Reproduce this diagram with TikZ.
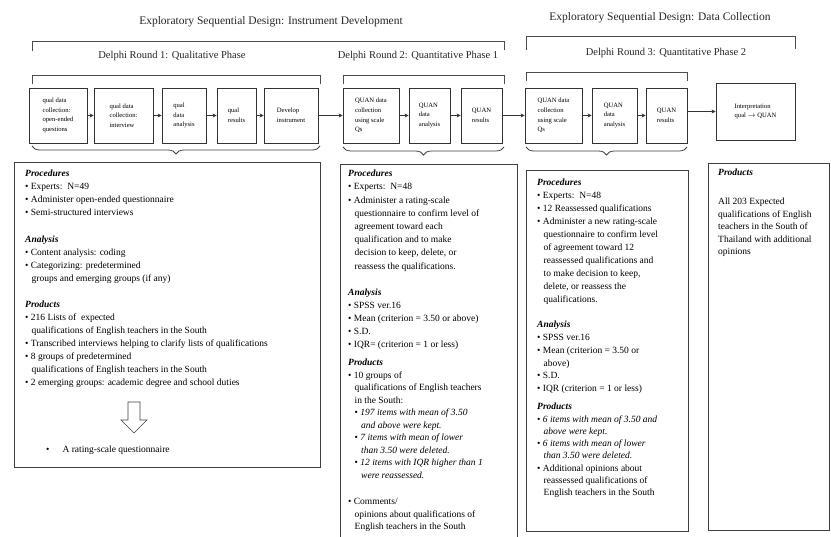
\documentclass[tikz,border=0pt]{standalone}
\usepackage{fontspec}
\setmainfont{Liberation Serif}
\usetikzlibrary{arrows.meta,decorations.pathreplacing}

\newcommand{\pbul}{\textbullet\ }
\newcommand{\pind}{\hspace*{6.5pt}}
\newcommand{\phead}[1]{\textbf{\textit{#1}}}

\tikzset{
  stage/.style={draw=black!80, line width=0.9pt, align=left, inner sep=0pt, font=\fontsize{6.6}{9.6}\selectfont, minimum height=55pt},
  flow/.style={-{Stealth[length=4pt,width=4pt]}, line width=0.6pt, black!80},
  panel/.style={draw=black!75, line width=0.8pt},
  ptext/.style={anchor=north west, align=left, inner sep=0pt, font=\fontsize{9.5}{13}\selectfont},
  bracket/.style={line width=1pt, black!70},
  curly/.style={decorate, decoration={brace, mirror, amplitude=8pt}, line width=0.8pt, black!75},
}

\begin{document}
\begin{tikzpicture}[x=1pt, y=-1pt]
	%%%%% START %%%%%
	\useasboundingbox (0,0) rectangle (831,537);

	% titles and brackets
	\node[font=\fontsize{11.5}{13}\selectfont, black!85] (tdev) at (271,22) {Exploratory Sequential Design: Instrument Development};
	\node[font=\fontsize{11.5}{13}\selectfont, black!85] (tcol) at (660,18) {Exploratory Sequential Design: Data Collection};
	\draw[bracket] (32,51) -- (32,42) -- (504,42) -- (504,50);
	\draw[bracket] (526,50) -- (526,37) -- (795,37) -- (795,49);

	\node[font=\fontsize{10.5}{12}\selectfont, black!85] (rone) at (172,56) {Delphi Round 1: Qualitative Phase};
	\node[font=\fontsize{10.5}{12}\selectfont, black!85] (rtwo) at (418,56) {Delphi Round 2: Quantitative Phase 1};
	\node[font=\fontsize{10.5}{12}\selectfont, black!85] (rthree) at (666,53) {Delphi Round 3: Quantitative Phase 2};
	\draw[bracket] (32,84) -- (32,76) -- (320,76) -- (320,84);
	\draw[bracket] (343,84) -- (343,76) -- (504,76) -- (504,84);
	\draw[bracket] (526,81) -- (526,73) -- (687,73) -- (687,81);

	% stages
	\node[stage, minimum width=58] (b1) at (58,115.5) {qual data\\collection:\\open-ended\\questions};
	\node[stage, minimum width=59] (b2) at (123.5,115.5) {qual data\\collection:\\interview};
	\node[stage, minimum width=44] (b3) at (184,115.5) {qual\\data\\analysis};
	\node[stage, minimum width=39] (b4) at (236.5,115.5) {qual\\results};
	\node[stage, minimum width=54] (b5) at (291,115.5) {Develop\\instrument};
	\node[stage, minimum width=56] (b6) at (371,115.5) {QUAN data\\collection\\using scale\\Qs};
	\node[stage, minimum width=41] (b7) at (429.5,115.5) {QUAN\\data\\analysis};
	\node[stage, minimum width=41] (b8) at (481.5,115.5) {QUAN\\results};
	\node[stage, minimum width=57] (b9) at (553.5,115.5) {QUAN data\\collection\\using scale\\Qs};
	\node[stage, minimum width=45] (b10) at (614.5,115.5) {QUAN\\data\\analysis};
	\node[stage, minimum width=41] (b11) at (666.5,115.5) {QUAN\\results};
	\node[stage, minimum width=79, minimum height=57] (b12) at (755.5,111.5) {Interpretation\\qual $\rightarrow$ QUAN};

	\draw[flow] (b1) -- (b2);
	\draw[flow] (b2) -- (b3);
	\draw[flow] (b3) -- (b4);
	\draw[flow] (b4) -- (b5);
	\draw[flow] (b5) -- (b6);
	\draw[flow] (b6) -- (b7);
	\draw[flow] (b7) -- (b8);
	\draw[flow] (b8) -- (b9);
	\draw[flow] (b9) -- (b10);
	\draw[flow] (b10) -- (b11);
	\draw[flow] (b11.east |- b12.west) -- (b12.west);

	\draw[curly] (32,146) -- (320,146);
	\draw[curly] (343,147) -- (504,147);
	\draw[curly] (526,147) -- (687,147);

	% panels
	\draw[panel] (14,162) rectangle (320,467);
	\draw[panel] (340,540) -- (340,164) -- (517,164) -- (517,540);
	\draw[panel] (526,170) rectangle (688,531);
	\draw[panel] (708,163) rectangle (829,530);

	% round 1
	\node[ptext] (p1proc) at (25,170) {\phead{Procedures}\\
		\pbul Experts:\ \ N=49\\
		\pbul Administer open-ended questionnaire\\
		\pbul Semi-structured interviews};
	\node[ptext] (p1anal) at (25,236) {\phead{Analysis}\\
		\pbul Content analysis: coding\\
		\pbul Categorizing: predetermined\\
		\pind groups and emerging groups (if any)};
	\node[ptext] (p1prod) at (25,301) {\phead{Products}\\
		\pbul 216 Lists of\ \ expected\\
		\pind qualifications of English teachers in the South\\
		\pbul Transcribed interviews helping to clarify lists of qualifications\\
		\pbul 8 groups of predetermined\\
		\pind qualifications of English teachers in the South\\
		\pbul 2 emerging groups: academic degree and school duties};
	\draw[line width=0.7pt, black!75] (128,402) -- (140,402) -- (140,420) -- (147,420) -- (134,433) -- (121,420) -- (128,420) -- cycle;
	\node[ptext, anchor=west] (p1out) at (46,450) {\textbullet\hspace*{13pt}A rating-scale questionnaire};

	% round 2
	\node[ptext, font=\fontsize{9.5}{13.2}\selectfont] (p2proc) at (348,170) {\phead{Procedures}\\
		\pbul Experts:\ \ N=48\\
		\pbul Administer a rating-scale\\
		\pind questionnaire to confirm level of\\
		\pind agreement toward each\\
		\pind qualification and to make\\
		\pind decision to keep, delete, or\\
		\pind reassess the qualifications.};
	\node[ptext] (p2anal) at (348,289) {\phead{Analysis}\\
		\pbul SPSS ver.16\\
		\pbul Mean (criterion = 3.50 or above)\\
		\pbul S.D.\\
		\pbul IQR= (criterion = 1 or less)};
	\node[ptext, font=\fontsize{9.5}{12.5}\selectfont] (p2prod) at (348,359) {\phead{Products}\\
		\pbul 10 groups of\\
		\pind qualifications of English teachers\\
		\pind in the South:\\
		\pind\pbul\textit{197 items with mean of 3.50}\\
		\pind\pind\textit{and above were kept.}\\
		\pind\pbul\textit{7 items with mean of lower}\\
		\pind\pind\textit{than 3.50 were deleted.}\\
		\pind\pbul\textit{12 items with IQR higher than 1}\\
		\pind\pind\textit{were reassessed.}\\[14pt]
		\pbul Comments/\\
		\pind opinions about qualifications of\\
		\pind English teachers in the South};

	% round 3
	\node[ptext] (p3proc) at (537,179) {\phead{Procedures}\\
		\pbul Experts:\ \ N=48\\
		\pbul 12 Reassessed qualifications\\
		\pbul Administer a new rating-scale\\
		\pind questionnaire to confirm level\\
		\pind of agreement toward 12\\
		\pind reassessed qualifications and\\
		\pind to make decision to keep,\\
		\pind delete, or reassess the\\
		\pind qualifications.};
	\node[ptext, font=\fontsize{9.5}{12.8}\selectfont] (p3anal) at (537,321) {\phead{Analysis}\\
		\pbul SPSS ver.16\\
		\pbul Mean (criterion = 3.50 or\\
		\pind above)\\
		\pbul S.D.\\
		\pbul IQR (criterion = 1 or less)};
	\node[ptext, font=\fontsize{9.5}{12.3}\selectfont] (p3prod) at (537,403) {\phead{Products}\\
		\pbul\textit{6 items with mean of 3.50 and}\\
		\pind\textit{above were kept.}\\
		\pbul\textit{6 items with mean of lower}\\
		\pind\textit{than 3.50 were deleted.}\\
		\pbul Additional opinions about\\
		\pind reassessed qualifications of\\
		\pind English teachers in the South};

	% data collection
	\node[ptext] (p4head) at (718,169) {\phead{Products}};
	\node[ptext, font=\fontsize{9.5}{12.5}\selectfont] (p4prod) at (718,198) {All 203 Expected\\
		qualifications of English\\
		teachers in the South of\\
		Thailand with additional\\
		opinions};

	%%%%% END %%%%%
\end{tikzpicture}
\end{document}
